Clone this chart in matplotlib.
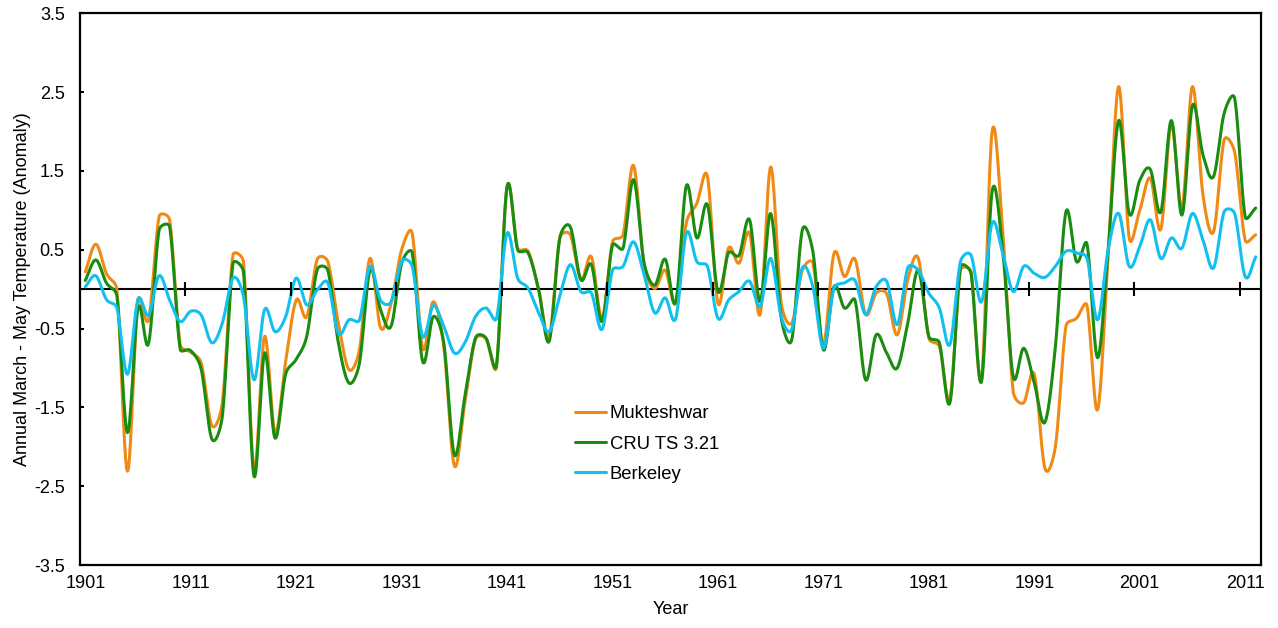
import numpy as np
import matplotlib
matplotlib.use("Agg")
import matplotlib.pyplot as plt

plt.rcParams['font.family'] = ['Liberation Sans', 'DejaVu Sans']

years = list(range(1901, 2013))

mukteshwar = [
    0.22, 0.57, 0.20, -0.01, -2.31, -0.13, -0.39, 0.92, 0.88, -0.70,
    -0.80, -0.94, -1.73, -1.44, 0.43, 0.35, -2.29, -0.60, -1.82, -0.92,
    -0.14, -0.35, 0.38, 0.35, -0.43, -1.02, -0.77, 0.39, -0.49, -0.18,
    0.50, 0.71, -0.75, -0.16, -0.73, -2.24, -1.44, -0.64, -0.63, -0.98,
    1.30, 0.52, 0.48, -0.01, -0.60, 0.65, 0.69, 0.12, 0.41, -0.37,
    0.60, 0.69, 1.57, 0.29, 0.01, 0.24, -0.18, 0.84, 1.09, 1.43,
    -0.18, 0.52, 0.33, 0.71, -0.32, 1.55, -0.18, -0.43, 0.24, 0.33,
    -0.70, 0.45, 0.16, 0.38, -0.32, -0.05, -0.06, -0.58, 0.12, 0.39,
    -0.62, -0.73, -1.38, 0.24, 0.22, -1.13, 2.00, 0.75, -1.30, -1.44,
    -1.08, -2.27, -2.00, -0.47, -0.37, -0.21, -1.53, 0.41, 2.57, 0.65,
    1.00, 1.41, 0.76, 2.10, 1.03, 2.57, 1.19, 0.73, 1.89, 1.74,
    0.62, 0.69,
]

cru_ts = [
    0.11, 0.37, 0.08, -0.09, -1.82, -0.24, -0.69, 0.75, 0.79, -0.76,
    -0.78, -1.02, -1.90, -1.61, 0.32, 0.22, -2.37, -0.81, -1.89, -1.08,
    -0.89, -0.60, 0.25, 0.24, -0.68, -1.19, -0.94, 0.24, -0.26, -0.47,
    0.33, 0.46, -0.92, -0.35, -0.68, -2.10, -1.36, -0.62, -0.62, -0.96,
    1.30, 0.50, 0.46, -0.01, -0.66, 0.65, 0.79, 0.12, 0.31, -0.41,
    0.56, 0.52, 1.39, 0.33, 0.05, 0.38, -0.16, 1.31, 0.65, 1.07,
    -0.03, 0.46, 0.43, 0.88, -0.16, 0.96, -0.37, -0.64, 0.75, 0.48,
    -0.77, 0.03, -0.24, -0.14, -1.15, -0.58, -0.81, -1.00, -0.43, 0.24,
    -0.60, -0.68, -1.44, 0.28, 0.20, -1.17, 1.24, 0.50, -1.11, -0.75,
    -1.19, -1.69, -0.73, 0.98, 0.35, 0.57, -0.87, 0.50, 2.14, 0.96,
    1.38, 1.52, 0.98, 2.14, 0.94, 2.33, 1.70, 1.43, 2.23, 2.42,
    0.92, 1.03,
]

berkeley = [
    0.03, 0.17, -0.13, -0.24, -1.08, -0.13, -0.33, 0.17, -0.14, -0.41,
    -0.28, -0.33, -0.68, -0.43, 0.14, -0.09, -1.15, -0.26, -0.54, -0.35,
    0.14, -0.20, -0.01, 0.08, -0.56, -0.39, -0.39, 0.29, -0.14, -0.16,
    0.35, 0.29, -0.60, -0.21, -0.47, -0.81, -0.68, -0.35, -0.24, -0.37,
    0.71, 0.14, 0.01, -0.30, -0.54, -0.09, 0.31, -0.03, -0.05, -0.51,
    0.24, 0.29, 0.60, 0.18, -0.30, -0.11, -0.37, 0.71, 0.35, 0.29,
    -0.37, -0.14, -0.03, 0.10, -0.22, 0.39, -0.35, -0.51, 0.27, 0.03,
    -0.75, 0.01, 0.08, 0.11, -0.32, 0.03, 0.10, -0.45, 0.27, 0.24,
    -0.05, -0.24, -0.70, 0.35, 0.43, -0.16, 0.84, 0.46, -0.03, 0.29,
    0.20, 0.15, 0.29, 0.48, 0.46, 0.39, -0.39, 0.50, 0.96, 0.29,
    0.54, 0.88, 0.39, 0.65, 0.52, 0.96, 0.62, 0.27, 0.98, 0.96,
    0.16, 0.41,
]

series_names = ["Mukteshwar", "CRU TS 3.21", "Berkeley"]
series_colors = ["#F08A14", "#1A8C10", "#12C0F0"]
x_labels = list(range(1901, 2012, 10))
y_ticks = [-3.5, -2.5, -1.5, -0.5, 0.5, 1.5, 2.5, 3.5]


def smooth(x, y, sx=10.54, sy=78.8, n=20):
    # spreadsheet-style smoothed line: cubic Bezier per segment, control
    # arms capped at half the segment length (computed in screen units)
    p = np.column_stack([np.asarray(x, float) * sx, np.asarray(y, float) * sy])
    out = []
    t = np.linspace(0, 1, n, endpoint=False)[:, None]
    for i in range(len(p) - 1):
        p1, p2 = p[i], p[i + 1]
        p0 = p[i - 1] if i > 0 else None
        p3 = p[i + 2] if i + 2 < len(p) else None
        d12 = np.hypot(*(p2 - p1))
        if p0 is None:
            c1 = p1 + (p2 - p1) / 3
        else:
            v = p2 - p0
            d = np.hypot(*v)
            c1 = p1 + v / d * min(d / 6, d12 / 2)
        if p3 is None:
            c2 = p2 - (p2 - p1) / 3
        else:
            w = p3 - p1
            d = np.hypot(*w)
            c2 = p2 - w / d * min(d / 6, d12 / 2)
        seg = ((1 - t) ** 3 * p1 + 3 * (1 - t) ** 2 * t * c1
               + 3 * (1 - t) * t ** 2 * c2 + t ** 3 * p2)
        out.append(seg)
    out.append(p[-1:])
    out = np.vstack(out)
    return out[:, 0] / sx, out[:, 1] / sy


fig = plt.figure(figsize=(12.78, 6.28), dpi=100)
ax = fig.add_axes([0.0626, 0.1003, 0.9241, 0.8785])

xpos = np.array(years) + 0.5
for vals, name, col in zip([mukteshwar, cru_ts, berkeley], series_names, series_colors):
    sx_, sy_ = smooth(xpos, vals)
    ax.plot(sx_, sy_, color=col, lw=2.2, label=name, solid_capstyle='round')

ax.axhline(0, color='black', lw=1.5, zorder=1)
ax.plot(x_labels[1:], [0] * len(x_labels[1:]), '|', color='black', ms=10, mew=1.5)

ax.set_xlim(1901, 2013)
ax.set_ylim(-3.5, 3.5)
ax.set_xticks(np.array(x_labels) + 0.5)
ax.set_xticklabels([str(v) for v in x_labels])
ax.set_yticks(y_ticks)
ax.set_yticklabels([f"{v:g}" for v in y_ticks])
ax.tick_params(axis='x', length=0, labelsize=13, pad=7)
ax.tick_params(axis='y', direction='in', length=3, width=1.5, labelsize=13, pad=11)
for s in ax.spines.values():
    s.set_linewidth(1.6)

ax.set_xlabel("Year", fontsize=13, labelpad=7)
ax.set_ylabel("Annual March - May Temperature (Anomaly)", fontsize=13, labelpad=2)

ax.legend(loc='center left', bbox_to_anchor=(0.419, 0.2193), frameon=False,
          fontsize=13.3, handlelength=1.68, handletextpad=0.2, labelspacing=0.72,
          borderpad=0, borderaxespad=0)

fig.savefig("out.png", dpi=100)
